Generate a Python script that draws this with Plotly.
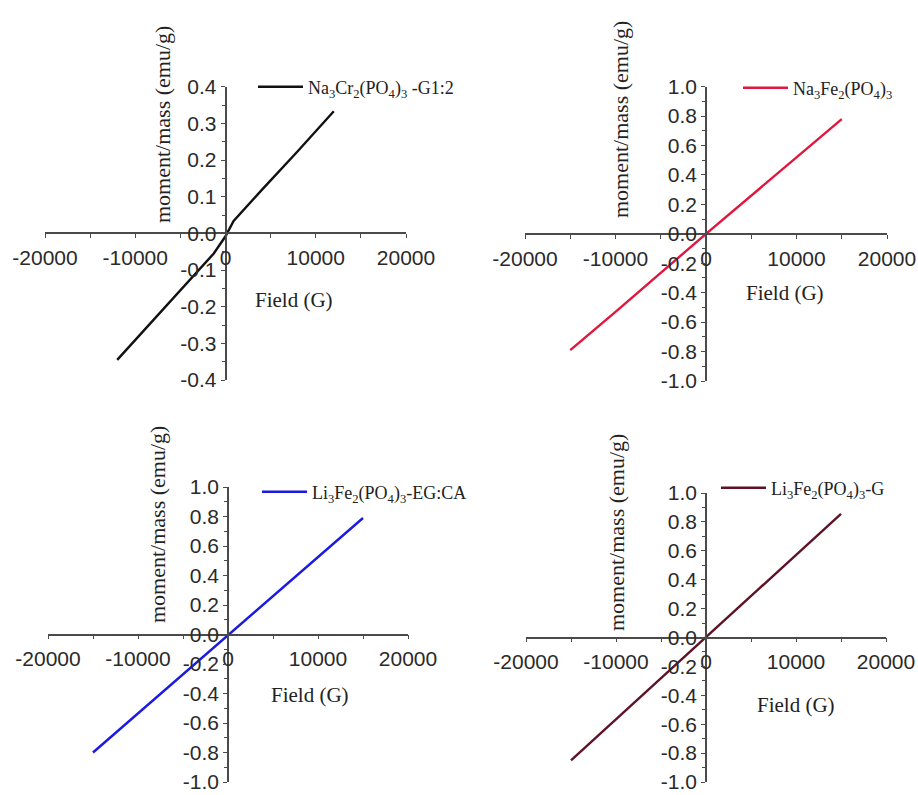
import plotly.graph_objects as go

W, H = 918, 795

# ---------------- data ----------------
P1_X = [-12000, -8000, -4000, -1300, 0, 900, 4000, 8000, 12000]
P1_Y = [-0.345, -0.237, -0.128, -0.055, -0.008, 0.034, 0.118, 0.224, 0.333]

P2_X = [-15000, -10000, 0, 10000, 15000]
P2_Y = [-0.79, -0.53, 0.0, 0.52, 0.78]

P3_X = [-15000, -10000, 0, 10000, 15000]
P3_Y = [-0.80, -0.535, 0.0, 0.53, 0.79]

P4_X = [-15000, -10000, 0, 10000, 15000]
P4_Y = [-0.85, -0.565, 0.0, 0.57, 0.855]

NAMES = [
    "Na<sub>3</sub>Cr<sub>2</sub>(PO<sub>4</sub>)<sub>3</sub> -G1:2",
    "Na<sub>3</sub>Fe<sub>2</sub>(PO<sub>4</sub>)<sub>3</sub>",
    "Li<sub>3</sub>Fe<sub>2</sub>(PO<sub>4</sub>)<sub>3</sub>-EG:CA",
    "Li<sub>3</sub>Fe<sub>2</sub>(PO<sub>4</sub>)<sub>3</sub>-G",
]
COLORS = ["#111111", "#e0163c", "#1a1ae0", "#5e1226"]

X_TICKS = [-20000, -10000, 0, 10000, 20000]
X_TICKTEXT = ["-20000", "-10000", "0", "10000", "20000"]

Y1_TICKS = [-0.4, -0.3, -0.2, -0.1, 0.0, 0.1, 0.2, 0.3, 0.4]
Y1_TICKTEXT = ["-0.4", "-0.3", "-0.2", "-0.1", "0.0", "0.1", "0.2", "0.3", "0.4"]
Y2_TICKS = [-1.0, -0.8, -0.6, -0.4, -0.2, 0.0, 0.2, 0.4, 0.6, 0.8, 1.0]
Y2_TICKTEXT = ["-1.0", "-0.8", "-0.6", "-0.4", "-0.2", "0.0", "0.2", "0.4", "0.6", "0.8", "1.0"]

X_TITLE = "Field (G)"
Y_TITLE = "moment/mass (emu/g)"

# ---------------- layout geometry (pixels) ----------------
panels = [
    dict(x=P1_X, y=P1_Y, xdom=(45, 406), ydom=(86.7, 380), yr=(-0.4, 0.4),
         yt=Y1_TICKS, ytt=Y1_TICKTEXT, ymin=0.05,
         leg=(253, 87), xt=(294, 300), ytl=(163, 125)),
    dict(x=P2_X, y=P2_Y, xdom=(525, 887), ydom=(86.7, 381), yr=(-1, 1),
         yt=Y2_TICKS, ytt=Y2_TICKTEXT, ymin=0.1,
         leg=(738, 88), xt=(785, 293), ytl=(621, 120)),
    dict(x=P3_X, y=P3_Y, xdom=(48, 408), ydom=(487, 782), yr=(-1, 1),
         yt=Y2_TICKS, ytt=Y2_TICKTEXT, ymin=0.1,
         leg=(257, 492), xt=(310, 695), ytl=(157, 525)),
    dict(x=P4_X, y=P4_Y, xdom=(526, 886), ydom=(493, 782), yr=(-1, 1),
         yt=Y2_TICKS, ytt=Y2_TICKTEXT, ymin=0.1,
         leg=(716, 488), xt=(796, 705), ytl=(616, 533)),
]

def fx(px):
    return px / W

def fy(py):
    return 1 - py / H

SANS = "Liberation Sans, Arial, sans-serif"
SERIF = "Liberation Serif, Times New Roman, serif"
AX_COLOR = "#4a4a4a"

fig = go.Figure()
layout = dict(
    width=W, height=H,
    margin=dict(l=0, r=0, t=0, b=0, autoexpand=False),
    paper_bgcolor="white", plot_bgcolor="white",
    showlegend=True,
    annotations=[],
)

for i, p in enumerate(panels):
    k = "" if i == 0 else str(i + 1)
    legname = "legend" + k
    fig.add_trace(go.Scatter(
        x=p["x"], y=p["y"], mode="lines", name=NAMES[i],
        line=dict(color=COLORS[i], width=2.4),
        xaxis="x" + k, yaxis="y" + k, legend=legname, showlegend=True,
    ))
    x0px = (p["xdom"][0] + p["xdom"][1]) / 2
    y0px = (p["ydom"][0] + p["ydom"][1]) / 2
    layout["xaxis" + k] = dict(
        domain=[fx(p["xdom"][0]), fx(p["xdom"][1])],
        range=[-20000, 20000],
        anchor="free", position=fy(y0px), automargin=False,
        tickmode="array", tickvals=X_TICKS, ticktext=X_TICKTEXT,
        ticks="outside", ticklen=4, tickwidth=1.2, tickcolor=AX_COLOR,
        ticklabelstandoff=2,
        minor=dict(tickmode="linear", tick0=0, dtick=5000, ticks="outside",
                   ticklen=4, tickwidth=1.2, tickcolor=AX_COLOR),
        showline=True, linecolor=AX_COLOR, linewidth=1.5,
        showgrid=False, zeroline=False,
        tickfont=dict(family=SANS, size=21, color="#2a2a2a"),
    )
    layout["yaxis" + k] = dict(
        domain=[fy(p["ydom"][1]), fy(p["ydom"][0])],
        range=list(p["yr"]),
        anchor="free", position=fx(x0px), automargin=False,
        tickmode="array", tickvals=p["yt"], ticktext=p["ytt"],
        ticks="outside", ticklen=4, tickwidth=1.2, tickcolor=AX_COLOR,
        minor=dict(tickmode="linear", tick0=0, dtick=p["ymin"], ticks="outside",
                   ticklen=3, tickwidth=1, tickcolor=AX_COLOR),
        showline=True, linecolor=AX_COLOR, linewidth=1.5,
        showgrid=False, zeroline=False,
        tickfont=dict(family=SANS, size=21, color="#2a2a2a"),
    )
    layout[legname] = dict(
        x=fx(p["leg"][0]), y=fy(p["leg"][1]),
        xanchor="left", yanchor="middle",
        bgcolor="rgba(0,0,0,0)", borderwidth=0,
        itemwidth=45,
        font=dict(family=SERIF, size=18, color="#222"),
    )
    layout["annotations"].append(dict(
        text=X_TITLE, xref="paper", yref="paper",
        x=fx(p["xt"][0]), y=fy(p["xt"][1]),
        xanchor="center", yanchor="middle", showarrow=False,
        font=dict(family=SERIF, size=21, color="#222"),
    ))
    layout["annotations"].append(dict(
        text=Y_TITLE, xref="paper", yref="paper",
        x=fx(p["ytl"][0]), y=fy(p["ytl"][1]),
        xanchor="center", yanchor="middle", showarrow=False, textangle=-90,
        font=dict(family=SERIF, size=22, color="#222"),
    ))

fig.update_layout(**layout)
fig.write_html("out.html")
